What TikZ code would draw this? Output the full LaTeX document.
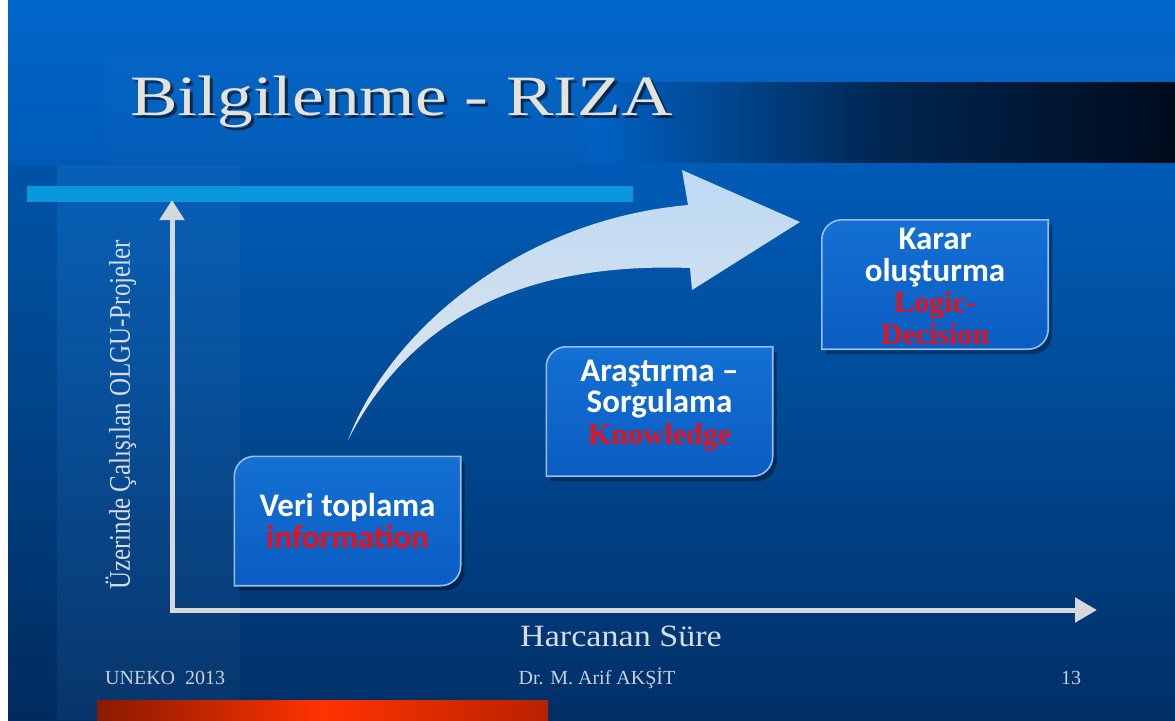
\documentclass[tikz,border=0pt]{standalone}
\usepackage{fontspec}
\setmainfont{Liberation Serif}
\newfontfamily\calfont{Carlito}
\usetikzlibrary{arrows.meta,calc}
\definecolor{bgtop}{HTML}{0066CC}
\definecolor{bgmid}{HTML}{004E9C}
\definecolor{bgbot}{HTML}{002F66}
\definecolor{banddark}{HTML}{002650}
\definecolor{bandblack}{HTML}{000B1C}
\definecolor{bandstart}{HTML}{0062C4}
\definecolor{cyanbar}{HTML}{0A98DC}
\definecolor{axisgray}{HTML}{D5D8DC}
\definecolor{labelgray}{HTML}{D8DCE2}
\definecolor{footgray}{HTML}{C8D0DC}
\definecolor{titlegray}{HTML}{E6E2DA}
\definecolor{boxtop}{HTML}{1470D4}
\definecolor{boxbot}{HTML}{0A5CC2}
\definecolor{boxedge}{HTML}{96BEEE}
\definecolor{redtxt}{HTML}{E3121B}
\definecolor{arrtail}{HTML}{BCD9F4}
\definecolor{arrhead}{HTML}{E4E6E9}
\definecolor{barleft}{HTML}{8A1A00}
\definecolor{barmid}{HTML}{FF3300}
\definecolor{barright}{HTML}{B82200}
\newcommand{\diagpath}[1]{([yshift=-20pt]#1.north west) arc[start angle=180,end angle=90,radius=20pt] -- (#1.north east) -- ([yshift=20pt]#1.south east) arc[start angle=0,end angle=-90,radius=20pt] -- (#1.south west) -- cycle}
\begin{document}
\begin{tikzpicture}[x=1pt,y=-1pt,
  boxnode/.style={minimum width=226pt,minimum height=129pt,inner sep=0pt},
  boxfill/.style={top color=boxtop,bottom color=boxbot,draw=boxedge,line width=1.6pt},
  boxshadow/.style={fill=black,opacity=0.35},
  boxtxt/.style={align=center,inner sep=0pt,text=white,font=\calfont\bfseries\fontsize{33}{31.5}\selectfont},
  axisline/.style={draw=axisgray,line width=5pt,{Triangle[width=24pt,length=20pt]}-{Triangle[width=24pt,length=22pt]}},
  axislabel/.style={text=labelgray,inner sep=0pt},
  titletxt/.style={anchor=base west,inner sep=0pt,xscale=1.25,font=\fontsize{57}{57}\selectfont},
  foot/.style={text=footgray,inner sep=0pt,font=\fontsize{20}{22}\selectfont}]
\useasboundingbox (0,0) rectangle (1175,720);
% background
\fill[white] (0,0) rectangle (1175,720);
\shade[top color=bgtop,bottom color=bgbot,middle color=bgmid] (8,0) rectangle (1175,720);
\fill[white,opacity=0.03] (57,165) rectangle (240,720);
\fill[black,opacity=0.08] (8,165) rectangle (57,720);
% title band
\fill[white,opacity=0.015] (105,55) rectangle (1175,162);
\shade[left color=bandstart,right color=bandblack,middle color=banddark] (590,82) rectangle (1175,162);
% title
\node[titletxt,text=black,opacity=0.55] at (133,118) {Bilgilenme - RIZA};
\node[titletxt,text=titlegray] (title) at (130,115) {Bilgilenme - RIZA};
% cyan bar
\fill[cyanbar] (27,186) rectangle (633,202);
% axes
\coordinate (ytop) at (172,200);
\coordinate (orig) at (172,610);
\coordinate (xend) at (1097,610);
\draw[axisline] (ytop) -- (orig) -- (xend);
\node[axislabel,xscale=1.2,rotate=90,font=\fontsize{25}{25}\selectfont] (ylab) at (121,415) {Üzerinde Çalışılan OLGU-Projeler};
\node[axislabel,xscale=1.1,anchor=base,font=\fontsize{31}{31}\selectfont] (xlab) at (621,646) {Harcanan Süre};
% big curved arrow
\coordinate (tail) at (348,440);
\shade[left color=arrtail,right color=arrhead,shading angle=0]
  (tail) .. controls (390,330) and (520,220) .. (688,205) -- (682,170) -- (800,222) -- (692,290) -- (690,268) .. controls (520,262) and (410,320) .. (tail) -- cycle;
% boxes
\node[boxnode] (b1) at (347.5,521) {};
\node[boxnode] (b2) at (659.5,411.5) {};
\node[boxnode] (b3) at (935,284.5) {};
\begin{scope}[transform canvas={xshift=4pt,yshift=-5pt}]
\fill[boxshadow] \diagpath{b1};
\fill[boxshadow] \diagpath{b2};
\fill[boxshadow] \diagpath{b3};
\end{scope}
\path[boxfill] \diagpath{b1};
\path[boxfill] \diagpath{b2};
\path[boxfill] \diagpath{b3};
\node[boxtxt] (t1) at (b1.center) {Veri toplama\\\textcolor{redtxt}{information}};
\node[boxtxt] (t2) at ([yshift=6pt]b2.center) {Araştırma –\\Sorgulama\\\textcolor{redtxt}{\rmfamily\fontsize{30}{31.5}\selectfont Knowledge}};
\node[boxtxt] (t3) at ([yshift=-2pt]b3.center) {Karar\\oluşturma\\\textcolor{redtxt}{\rmfamily\fontsize{30}{31.5}\selectfont Logic-}\\\textcolor{redtxt}{\rmfamily\fontsize{30}{31.5}\selectfont Decision}};
% footer
\node[foot,anchor=base west] (f1) at (105,684) {UNEKO\ \ 2013};
\node[foot,anchor=base] (f2) at (597,684) {Dr. M. Arif AKŞİT};
\node[foot,anchor=base] (f3) at (1071,684) {13};
\shade[left color=barleft,right color=barright,middle color=barmid] (97,700) rectangle (548,720);
\end{tikzpicture}
\end{document}
